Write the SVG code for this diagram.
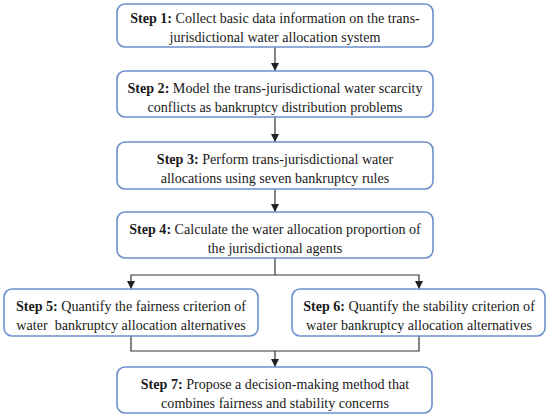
<svg xmlns="http://www.w3.org/2000/svg" width="550" height="419" viewBox="0 0 550 419">
<defs>
<marker id="ah" markerWidth="8" markerHeight="10" refX="8" refY="5" orient="auto" markerUnits="userSpaceOnUse">
<path d="M0,1 L8,5 L0,9 Z" fill="#222"/>
</marker>
<style>
.box{fill:#fff;stroke:#6d8fca;stroke-width:1.6}
.c{fill:none;stroke:#333;stroke-width:1.2}
</style>
</defs>
<rect width="550" height="419" fill="#fff"/>
<g id="connectors">
<line class="c" x1="275" y1="47" x2="275" y2="71" marker-end="url(#ah)"/>
<line class="c" x1="275" y1="117" x2="275" y2="142" marker-end="url(#ah)"/>
<line class="c" x1="275" y1="189" x2="275" y2="212" marker-end="url(#ah)"/>
<polyline class="c" points="275,258 275,275"/>
<polyline class="c" points="275,275 131,275 131,289" marker-end="url(#ah)"/>
<polyline class="c" points="275,275 419,275 419,289" marker-end="url(#ah)"/>
<polyline class="c" points="131,336 131,351 419,351 419,336"/>
<line class="c" x1="275" y1="351" x2="275" y2="367" marker-end="url(#ah)"/>
</g>
<g font-family="'Liberation Serif', 'Times New Roman', serif" font-size="14.1" fill="#1a1a1a" text-anchor="middle">
<g id="step1">
<rect class="box" x="117" y="4" width="316" height="43" rx="8"/>
<text x="275" y="22.5"><tspan font-weight="bold">Step 1:</tspan> Collect basic data information on the trans-</text>
<text x="275" y="41.5">jurisdictional water allocation system</text>
</g>
<g id="step2">
<rect class="box" x="117" y="71" width="316" height="46" rx="8"/>
<text x="275" y="92.5"><tspan font-weight="bold">Step 2:</tspan> Model the trans-jurisdictional water scarcity</text>
<text x="275" y="111.5">conflicts as bankruptcy distribution problems</text>
</g>
<g id="step3">
<rect class="box" x="117" y="142" width="316" height="47" rx="8"/>
<text x="275" y="163.5"><tspan font-weight="bold">Step 3:</tspan> Perform trans-jurisdictional water</text>
<text x="275" y="182.5">allocations using seven bankruptcy rules</text>
</g>
<g id="step4">
<rect class="box" x="117" y="212" width="316" height="46" rx="8"/>
<text x="275" y="233.5"><tspan font-weight="bold">Step 4:</tspan> Calculate the water allocation proportion of</text>
<text x="275" y="252.5">the jurisdictional agents</text>
</g>
<g id="step5">
<rect class="box" x="4" y="289" width="254" height="47" rx="8"/>
<text x="131" y="310.5"><tspan font-weight="bold">Step 5:</tspan> Quantify the fairness criterion of</text>
<text x="131" y="329.5" xml:space="preserve">water  bankruptcy allocation alternatives</text>
</g>
<g id="step6">
<rect class="box" x="292" y="289" width="253" height="47" rx="8"/>
<text x="419" y="310.5"><tspan font-weight="bold">Step 6:</tspan> Quantify the stability criterion of</text>
<text x="419" y="329.5">water bankruptcy allocation alternatives</text>
</g>
<g id="step7">
<rect class="box" x="117" y="367" width="315" height="46" rx="8"/>
<text x="275" y="388.5"><tspan font-weight="bold">Step 7:</tspan> Propose a decision-making method that</text>
<text x="275" y="407.5">combines fairness and stability concerns</text>
</g>
</g>
</svg>
